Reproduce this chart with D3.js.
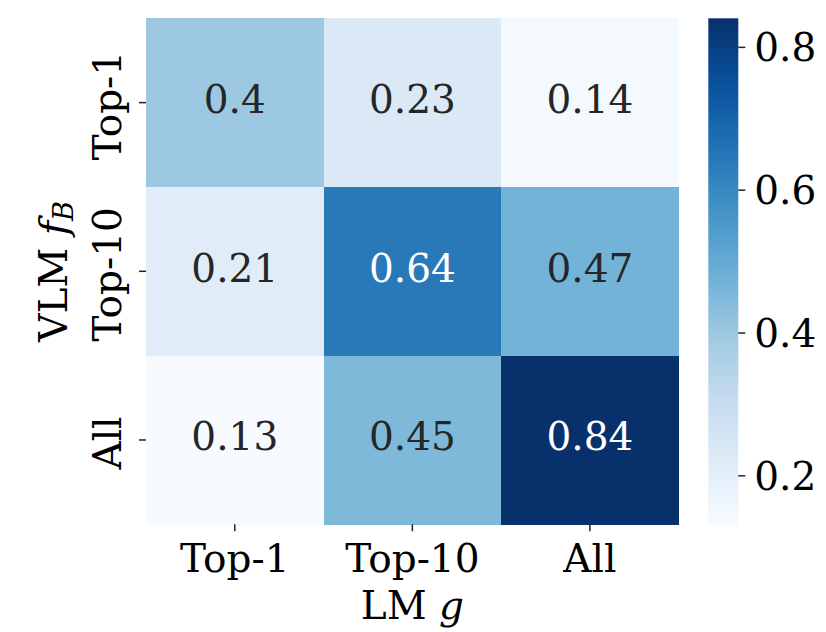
<!DOCTYPE html>
<html>
<head>
<meta charset="utf-8">
<script src="https://cdn.jsdelivr.net/npm/d3@7"></script>
<style>
  body { margin: 0; background: #fff; }
  svg text { font-family: "DejaVu Serif", serif; }
</style>
</head>
<body>
<div id="chart"></div>
<script>
// ===========================
// Heatmap: VLM f_B vs LM g
// ===========================

const rowLabels = ['Top-1', 'Top-10', 'All'];
const colLabels = ['Top-1', 'Top-10', 'All'];
const values = [
    [0.40, 0.23, 0.14],
    [0.21, 0.64, 0.47],
    [0.13, 0.45, 0.84]
];
const colorbarTicks = [0.2, 0.4, 0.6, 0.8];

// matplotlib "Blues" anchors
const bluesStops = ['#f7fbff', '#deebf7', '#c6dbef', '#9ecae1', '#6baed6',
                    '#4292c6', '#2171b5', '#08519c', '#08306b'];

const width = 826, height = 632;
const fontSize = 39;
const box = { left: 146, right: 678.7, top: 18.3, bottom: 524.3 };
const cbar = { left: 708.3, right: 738.3, top: 18.3, bottom: 525.3 };

const flat = values.flat();
const vmin = d3.min(flat), vmax = d3.max(flat);

const blues = d3.scaleLinear()
    .domain(d3.range(bluesStops.length).map(i => i / (bluesStops.length - 1)))
    .range(bluesStops)
    .interpolate(d3.interpolateRgb)
    .clamp(true);
const norm = d3.scaleLinear().domain([vmin, vmax]).range([0, 1]).clamp(true);
const colorOf = v => blues(norm(v));

// seaborn-style annotation colour
function textColor(fill) {
    const c = d3.rgb(fill);
    const lin = x => { x /= 255; return x <= 0.03928 ? x / 12.92 : Math.pow((x + 0.055) / 1.055, 2.4); };
    const lum = 0.2126 * lin(c.r) + 0.7152 * lin(c.g) + 0.0722 * lin(c.b);
    return lum > 0.408 ? '#262626' : '#ffffff';
}

const svg = d3.select('#chart').append('svg')
    .attr('width', width)
    .attr('height', height);

const x = d3.scaleBand().domain(colLabels).range([box.left, box.right]);
const y = d3.scaleBand().domain(rowLabels).range([box.top, box.bottom]);

const cells = [];
values.forEach((row, i) => row.forEach((v, j) => cells.push({ r: rowLabels[i], c: colLabels[j], v })));

svg.append('g').selectAll('rect')
    .data(cells)
    .join('rect')
    .attr('x', d => x(d.c))
    .attr('y', d => y(d.r))
    .attr('width', x.bandwidth() + 0.5)
    .attr('height', y.bandwidth() + 0.5)
    .attr('fill', d => colorOf(d.v))
    .attr('shape-rendering', 'crispEdges');

svg.append('g').selectAll('text')
    .data(cells)
    .join('text')
    .attr('x', d => x(d.c) + x.bandwidth() / 2)
    .attr('y', d => y(d.r) + y.bandwidth() / 2 + 10.5)
    .attr('text-anchor', 'middle')
    .style('font-size', fontSize + 'px')
    .attr('fill', d => textColor(colorOf(d.v)))
    .text(d => String(d.v));

// x axis
const xAxis = svg.append('g')
    .attr('transform', `translate(0,${box.bottom})`)
    .call(d3.axisBottom(x).tickSize(7).tickPadding(0));
xAxis.select('.domain').remove();
xAxis.selectAll('.tick line').attr('stroke', '#222').attr('stroke-width', 1.5);
xAxis.selectAll('.tick text')
    .attr('y', 572 - box.bottom)
    .attr('dy', null)
    .attr('fill', '#000')
    .style('font-size', fontSize + 'px');

const xTitle = svg.append('text')
    .attr('x', (box.left + box.right) / 2)
    .attr('y', 619)
    .attr('text-anchor', 'middle')
    .style('font-size', fontSize + 'px')
    .attr('fill', '#000');
xTitle.append('tspan').text('LM ');
xTitle.append('tspan').style('font-style', 'italic').text('g');

// y axis (rotated tick labels)
const yAxis = svg.append('g')
    .attr('transform', `translate(${box.left},0)`)
    .call(d3.axisLeft(y).tickSize(7).tickPadding(0));
yAxis.select('.domain').remove();
yAxis.selectAll('.tick line').attr('stroke', '#222').attr('stroke-width', 1.5);
yAxis.selectAll('.tick text')
    .attr('x', 0)
    .attr('dy', null)
    .attr('text-anchor', 'middle')
    .attr('transform', `translate(${121 - box.left},3) rotate(-90)`)
    .attr('fill', '#000')
    .style('font-size', fontSize + 'px');

const yTitle = svg.append('text')
    .attr('transform', `translate(67,${(box.top + box.bottom) / 2}) rotate(-90)`)
    .attr('text-anchor', 'middle')
    .style('font-size', fontSize + 'px')
    .attr('fill', '#000');
yTitle.append('tspan').text('VLM ');
yTitle.append('tspan').style('font-style', 'italic').text('f');
yTitle.append('tspan').style('font-style', 'italic').style('font-size', (fontSize * 0.7) + 'px')
    .attr('dy', 6).text('B');

// colorbar
const cy = d3.scaleLinear().domain([vmin, vmax]).range([cbar.bottom, cbar.top]);
const grad = svg.append('defs').append('linearGradient')
    .attr('id', 'cbar-grad')
    .attr('x1', 0).attr('y1', 1).attr('x2', 0).attr('y2', 0);
d3.range(0, 1.0001, 0.05).forEach(t => {
    grad.append('stop').attr('offset', t).attr('stop-color', blues(t));
});
svg.append('rect')
    .attr('x', cbar.left)
    .attr('y', cbar.top)
    .attr('width', cbar.right - cbar.left)
    .attr('height', cbar.bottom - cbar.top)
    .attr('fill', 'url(#cbar-grad)');

const cAxis = svg.append('g')
    .attr('transform', `translate(${cbar.right},0)`)
    .call(d3.axisRight(cy).tickValues(colorbarTicks).tickFormat(d3.format('.1f')).tickSize(7).tickPadding(9));
cAxis.select('.domain').remove();
cAxis.selectAll('.tick line').attr('stroke', '#222').attr('stroke-width', 1.5);
cAxis.selectAll('.tick text')
    .attr('dy', 14)
    .attr('fill', '#000')
    .style('font-size', fontSize + 'px');
</script>
</body>
</html>
